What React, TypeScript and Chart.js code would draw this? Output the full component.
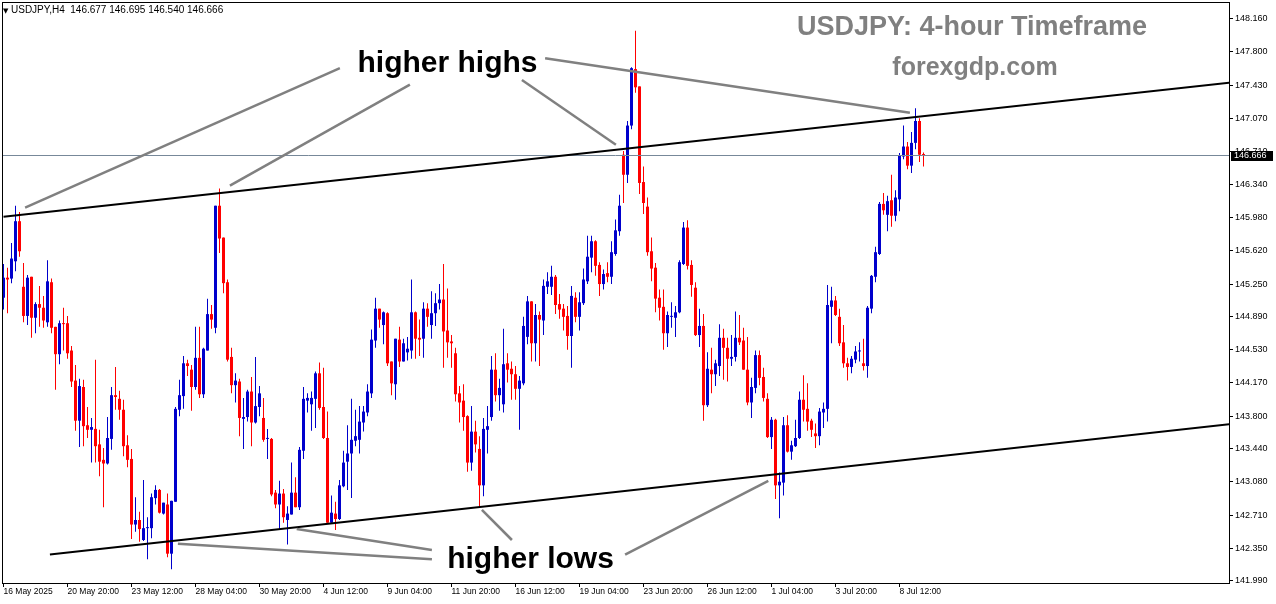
import React, { useEffect, useRef } from 'react';
import { Chart, registerables } from 'chart.js';

Chart.register(...registerables);

// ---- data ----
const timeTickLabels = [
  '16 May 2025', '20 May 20:00', '23 May 12:00', '28 May 04:00', '30 May 20:00',
  '4 Jun 12:00', '9 Jun 04:00', '11 Jun 20:00', '16 Jun 12:00', '19 Jun 04:00',
  '23 Jun 20:00', '26 Jun 12:00', '1 Jul 04:00', '3 Jul 20:00', '8 Jul 12:00',
];
const barsPerTimeTick = 16;

const priceTicks = [
  148.16, 147.8, 147.43, 147.07, 146.71, 146.34, 145.98, 145.62, 145.25,
  144.89, 144.53, 144.17, 143.8, 143.44, 143.08, 142.71, 142.35, 141.99,
];

const open = [
  145.10, 145.32, 145.31, 145.50, 145.94, 145.22, 144.90, 145.33, 144.88, 145.03,
  144.99, 144.83, 145.27, 144.78, 144.48, 144.82, 144.82, 144.52, 144.19, 143.75,
  144.12, 143.70, 143.65, 143.66, 143.49, 143.32, 143.28, 143.55, 144.03, 143.99,
  143.87, 143.48, 143.33, 142.61, 142.66, 142.44, 142.57, 142.57, 142.90, 142.99,
  142.73, 142.83, 142.29, 142.86, 143.87, 144.02, 144.38, 144.31, 144.12, 144.44,
  144.04, 144.52, 144.92, 144.77, 146.11, 145.76, 145.27, 144.45, 144.14, 144.18,
  143.77, 143.79, 144.07, 143.73, 143.90, 143.78, 143.55, 143.55, 142.96, 142.83,
  142.95, 142.66, 142.72, 142.96, 142.80, 143.42, 143.97, 143.93, 143.99, 144.27,
  143.90, 143.56, 142.63, 142.73, 142.67, 143.03, 143.30, 143.39, 143.53, 143.54,
  143.73, 143.84, 144.05, 144.63, 144.98, 144.80, 144.93, 144.40, 144.15, 144.64,
  144.40, 144.50, 144.52, 144.94, 144.66, 144.65, 144.98, 144.80, 144.93, 145.04,
  145.08, 144.74, 144.62, 144.49, 144.05, 143.97, 143.80, 143.29, 143.63, 143.44,
  143.04, 143.65, 143.79, 144.31, 144.03, 143.93, 144.38, 144.32, 144.26, 144.10,
  144.16, 144.67, 145.06, 144.60, 144.91, 144.85, 145.22, 145.22, 145.33, 145.03,
  144.98, 144.90, 144.68, 145.10, 144.89, 145.04, 145.28, 145.54, 145.72, 145.46,
  145.25, 145.37, 145.33, 145.58, 145.83, 146.67, 146.45, 146.99, 147.61, 147.42,
  146.37, 146.10, 145.61, 145.43, 145.10, 145.00, 144.71, 144.89, 144.88, 144.94,
  145.47, 145.87, 145.46, 145.21, 144.69, 144.79, 143.92, 144.31, 144.26, 144.35,
  144.66, 144.55, 144.43, 144.45, 144.66, 144.63, 144.31, 143.95, 144.11, 144.47,
  144.23, 143.99, 143.57, 143.76, 143.04, 143.07, 143.70, 143.41, 143.47, 143.56,
  143.98, 143.88, 143.75, 143.61, 143.58, 143.84, 143.88, 145.00, 145.07, 144.89,
  144.61, 144.38, 144.34, 144.42, 144.51, 144.38, 144.35, 144.98, 145.33, 145.58,
  146.13, 146.01, 146.17, 146.00, 146.18, 146.65, 146.76, 146.55, 146.80, 147.04,
  146.677,
];

const high = [
  145.47, 145.43, 145.70, 146.11, 146.04, 145.48, 145.35, 145.33, 145.05, 145.23,
  145.12, 145.51, 145.31, 144.78, 144.85, 144.99, 144.90, 144.57, 144.36, 144.21,
  144.20, 143.90, 143.78, 144.42, 143.65, 143.45, 143.79, 144.12, 144.34, 144.08,
  143.98, 143.59, 143.44, 142.91, 142.75, 143.10, 142.69, 142.95, 143.04, 143.00,
  142.85, 142.95, 142.87, 143.90, 144.20, 144.46, 144.42, 144.36, 144.78, 144.78,
  144.55, 145.09, 145.02, 146.11, 146.30, 145.76, 145.30, 144.55, 144.27, 144.21,
  144.00, 144.09, 144.23, 144.45, 144.13, 144.00, 143.66, 143.56, 142.99, 143.09,
  143.00, 142.81, 143.29, 143.13, 143.46, 144.12, 144.05, 144.07, 144.29, 144.39,
  144.33, 143.85, 142.93, 142.86, 143.10, 143.42, 143.70, 143.99, 143.87, 143.91,
  143.91, 144.15, 144.75, 145.10, 144.98, 144.95, 144.94, 144.40, 144.65, 144.78,
  144.65, 144.67, 145.30, 144.95, 144.86, 145.05, 145.04, 145.17, 145.15, 145.25,
  145.47, 145.20, 144.69, 144.55, 144.13, 144.15, 143.81, 143.91, 143.75, 143.58,
  143.78, 143.91, 144.46, 144.49, 144.21, 144.76, 144.49, 144.40, 144.35, 144.24,
  144.89, 145.12, 145.06, 145.03, 144.95, 145.30, 145.38, 145.45, 145.35, 145.14,
  145.03, 145.01, 145.23, 145.16, 145.16, 145.42, 145.78, 145.78, 145.73, 145.49,
  145.41, 145.49, 145.72, 145.96, 146.23, 146.71, 147.04, 147.63, 148.03, 147.42,
  146.54, 146.20, 145.76, 145.48, 145.19, 145.19, 144.95, 145.05, 145.01, 145.51,
  145.93, 145.95, 145.51, 145.27, 144.98, 144.92, 144.50, 144.55, 144.42, 144.81,
  144.76, 144.66, 144.69, 144.95, 144.91, 144.77, 144.67, 144.22, 144.52, 144.52,
  144.33, 144.05, 143.79, 143.77, 143.18, 143.79, 143.81, 143.53, 143.76, 144.07,
  144.25, 144.16, 143.77, 143.72, 143.89, 143.95, 145.24, 145.22, 145.12, 144.98,
  144.80, 144.44, 144.46, 144.57, 144.61, 144.65, 145.01, 145.35, 145.66, 146.15,
  146.25, 146.22, 146.45, 146.28, 146.69, 146.99, 146.81, 146.92, 147.18, 147.07,
  146.695,
];

const low = [
  144.97, 144.93, 145.26, 145.39, 145.55, 144.83, 144.80, 144.66, 144.71, 144.78,
  144.77, 144.78, 144.71, 144.09, 144.37, 144.52, 144.43, 144.12, 143.64, 143.46,
  143.47, 143.56, 143.29, 143.29, 143.14, 142.80, 143.27, 143.43, 143.87, 143.76,
  143.36, 143.24, 142.45, 142.53, 142.42, 142.43, 142.23, 142.46, 142.83, 142.73,
  142.72, 142.25, 142.12, 142.86, 143.80, 143.88, 144.24, 143.86, 144.09, 144.00,
  144.00, 144.52, 144.76, 144.71, 145.59, 145.15, 144.40, 144.05, 143.95, 143.58,
  143.44, 143.74, 143.47, 143.72, 143.80, 143.52, 143.33, 142.92, 142.79, 142.56,
  142.63, 142.39, 142.72, 142.80, 142.77, 143.33, 143.84, 143.64, 143.67, 143.87,
  143.55, 142.63, 142.63, 142.55, 142.66, 143.02, 142.99, 142.90, 143.47, 143.39,
  143.63, 143.80, 144.00, 144.55, 144.77, 144.59, 144.35, 144.03, 143.98, 144.34,
  144.40, 144.41, 144.43, 144.43, 144.46, 144.44, 144.78, 144.65, 144.79, 144.97,
  144.33, 144.44, 144.33, 143.96, 143.73, 143.64, 143.19, 143.20, 143.40, 142.80,
  142.92, 143.39, 143.75, 143.96, 143.86, 143.84, 144.17, 143.98, 143.98, 143.65,
  144.14, 144.59, 144.40, 144.40, 144.35, 144.69, 145.14, 145.13, 144.92, 144.87,
  144.74, 144.53, 144.33, 144.83, 144.74, 145.02, 145.25, 145.38, 145.34, 145.12,
  145.19, 145.27, 145.25, 145.56, 145.78, 146.14, 146.36, 146.95, 147.35, 146.24,
  146.02, 145.56, 145.28, 144.94, 144.85, 144.53, 144.56, 144.77, 144.67, 144.93,
  145.46, 145.41, 145.11, 144.68, 144.56, 143.75, 143.90, 144.05, 144.13, 144.24,
  144.20, 144.18, 144.35, 144.40, 144.58, 144.31, 143.92, 143.78, 144.05, 144.14,
  143.96, 143.56, 143.44, 142.89, 142.68, 142.93, 143.40, 143.32, 143.46, 143.55,
  143.74, 143.64, 143.57, 143.45, 143.48, 143.67, 143.74, 144.60, 144.90, 144.57,
  144.33, 144.19, 144.27, 144.38, 144.40, 144.30, 144.22, 144.93, 145.27, 145.57,
  146.01, 145.83, 145.88, 145.94, 146.05, 146.62, 146.51, 146.47, 146.73, 146.59,
  146.540,
];

const close = [
  145.32, 145.30, 145.53, 145.94, 145.61, 144.90, 145.32, 144.88, 145.03, 144.99,
  144.85, 145.28, 144.77, 144.48, 144.82, 144.81, 144.49, 144.18, 143.75, 144.13,
  143.69, 143.65, 143.68, 143.47, 143.30, 143.28, 143.56, 144.03, 144.01, 143.87,
  143.47, 143.32, 142.61, 142.66, 142.56, 142.57, 142.58, 142.91, 142.99, 142.74,
  142.85, 142.29, 142.87, 143.88, 144.03, 144.38, 144.35, 144.12, 144.44, 144.04,
  144.54, 144.92, 144.86, 146.11, 145.75, 145.26, 144.42, 144.14, 144.19, 143.78,
  143.79, 144.07, 143.73, 143.91, 144.05, 143.54, 143.56, 142.94, 142.83, 142.95,
  142.69, 142.73, 142.96, 142.80, 143.43, 143.99, 144.00, 144.00, 144.27, 143.89,
  143.56, 142.63, 142.74, 142.67, 143.04, 143.29, 143.39, 143.54, 143.58, 143.74,
  143.85, 144.07, 144.64, 144.98, 144.86, 144.94, 144.38, 144.16, 144.65, 144.40,
  144.60, 144.54, 144.94, 144.65, 144.64, 144.98, 144.89, 144.93, 145.04, 145.08,
  144.73, 144.61, 144.60, 144.04, 143.95, 143.79, 143.29, 143.63, 143.49, 143.04,
  143.66, 143.69, 144.31, 144.03, 144.11, 144.37, 144.31, 144.26, 144.10, 144.19,
  144.79, 145.06, 144.60, 144.91, 144.86, 145.23, 145.28, 145.33, 145.02, 144.97,
  144.89, 144.68, 145.12, 144.89, 145.05, 145.30, 145.55, 145.72, 145.45, 145.25,
  145.36, 145.33, 145.60, 145.84, 146.11, 146.45, 146.99, 147.62, 147.41, 146.36,
  146.14, 145.60, 145.42, 145.09, 144.99, 144.71, 144.91, 144.90, 144.94, 145.49,
  145.87, 145.45, 145.24, 144.69, 144.79, 143.92, 144.32, 144.26, 144.38, 144.66,
  144.55, 144.43, 144.45, 144.66, 144.61, 144.31, 143.95, 144.12, 144.47, 144.22,
  144.00, 143.57, 143.76, 143.04, 143.08, 143.70, 143.41, 143.48, 143.56, 143.98,
  143.87, 143.74, 143.65, 143.58, 143.85, 143.88, 145.02, 145.07, 144.91, 144.60,
  144.38, 144.34, 144.43, 144.51, 144.52, 144.35, 144.99, 145.34, 145.60, 146.13,
  146.06, 146.16, 146.00, 146.20, 146.66, 146.76, 146.55, 146.80, 147.04, 146.67,
  146.666,
];

const bidPrice = 146.666;

// trend channel lines: [barIndex, price] end points
const upperChannel = [[0, 145.99], [306.4, 147.46]];
const lowerChannel = [[11.6, 142.28], [306.4, 143.71]];

// annotation pointer lines: [barIndex, price] end points
const higherHighsPointers = [
  [[84.1, 147.62], [5.4, 146.09]],
  [[101.6, 147.44], [56.6, 146.33]],
  [[129.6, 147.49], [153.1, 146.78]],
  [[135.4, 147.73], [226.6, 147.13]],
];
const higherLowsPointers = [
  [[107.1, 142.23], [43.6, 142.40]],
  [[107.1, 142.33], [73.3, 142.56]],
  [[127.1, 142.44], [119.6, 142.77]],
  [[155.4, 142.28], [191.2, 143.09]],
];

const symbolTitle = 'USDJPY,H4';
const chartTitle = 'USDJPY: 4-hour Timeframe';
const siteName = 'forexgdp.com';
const highsLabel = 'higher highs';
const lowsLabel = 'higher lows';

// ---- style ----
const BULL = '#0000CC';
const BEAR = '#FF0000';
const AXIS_FONT = 'Liberation Sans';

const overlayPlugin = {
  id: 'mtOverlay',
  afterDatasetsDraw(chart: any) {
    const { ctx, chartArea: a, scales } = chart;
    const px = (v: number) => scales.x.getPixelForValue(v);
    const py = (v: number) => scales.y.getPixelForValue(v);
    ctx.save();
    ctx.beginPath();
    ctx.rect(a.left, a.top, a.right - a.left, a.bottom - a.top);
    ctx.clip();

    // bid line
    const by = Math.round(py(bidPrice)) + 0.5;
    ctx.strokeStyle = '#778899';
    ctx.lineWidth = 1;
    ctx.beginPath();
    ctx.moveTo(a.left, by);
    ctx.lineTo(a.right, by);
    ctx.stroke();

    // channel
    ctx.strokeStyle = '#000000';
    ctx.lineWidth = 2;
    for (const seg of [upperChannel, lowerChannel]) {
      ctx.beginPath();
      ctx.moveTo(px(seg[0][0]), py(seg[0][1]));
      ctx.lineTo(px(seg[1][0]), py(seg[1][1]));
      ctx.stroke();
    }

    // pointers
    ctx.strokeStyle = '#808080';
    ctx.lineWidth = 2.5;
    for (const seg of [...higherHighsPointers, ...higherLowsPointers]) {
      ctx.beginPath();
      ctx.moveTo(px(seg[0][0]), py(seg[0][1]));
      ctx.lineTo(px(seg[1][0]), py(seg[1][1]));
      ctx.stroke();
    }

    // labels
    ctx.textAlign = 'center';
    ctx.textBaseline = 'alphabetic';
    ctx.fillStyle = '#000000';
    ctx.font = `bold 30px "${AXIS_FONT}"`;
    ctx.fillText(highsLabel, 447.5, 72);
    ctx.fillText(lowsLabel, 530.5, 568);

    ctx.fillStyle = '#808080';
    ctx.font = `bold 27px "${AXIS_FONT}"`;
    ctx.fillText(chartTitle, 972, 35);
    ctx.font = `bold 25px "${AXIS_FONT}"`;
    ctx.fillText(siteName, 975, 75);
    ctx.restore();
  },
  afterDraw(chart: any) {
    const { ctx, chartArea: a, scales } = chart;
    ctx.save();
    // frame
    ctx.strokeStyle = '#000000';
    ctx.lineWidth = 1;
    ctx.strokeRect(a.left + 0.5, a.top + 0.5, a.right - a.left, a.bottom - a.top);

    // top-left symbol info
    const last = open.length - 1;
    ctx.fillStyle = '#000000';
    ctx.textAlign = 'left';
    ctx.textBaseline = 'alphabetic';
    ctx.font = `7px "DejaVu Sans"`;
    ctx.fillText('▼', 3, 13);
    ctx.font = `10px "${AXIS_FONT}"`;
    ctx.fillText(
      `${symbolTitle}  ${open[last].toFixed(3)} ${high[last].toFixed(3)} ${low[last].toFixed(3)} ${close[last].toFixed(3)}`,
      11, 13,
    );

    // bid price box on axis
    const by = Math.round(scales.y.getPixelForValue(bidPrice));
    ctx.fillStyle = '#000000';
    ctx.fillRect(a.right + 2, by - 4, 42, 10);
    ctx.fillStyle = '#FFFFFF';
    ctx.font = `9px "${AXIS_FONT}"`;
    ctx.textBaseline = 'middle';
    ctx.fillText(bidPrice.toFixed(3), a.right + 5, by + 1);
    ctx.restore();
  },
};

export default function App() {
  const canvasRef = useRef<HTMLCanvasElement | null>(null);

  useEffect(() => {
    const canvas = canvasRef.current;
    if (!canvas) return;
    const idx = open.map((_, i) => i);
    const colors = idx.map((i) => (close[i] >= open[i] ? BULL : BEAR));
    const slotsVisible = 1227 / 4;

    const chart = new Chart(canvas, {
      type: 'bar',
      data: {
        datasets: [
          {
            label: 'body',
            data: idx.map((i) => ({ x: i, y: [open[i], close[i]] })) as any,
            backgroundColor: colors,
            borderWidth: 0,
            barThickness: 3,
            minBarLength: 1,
            grouped: false,
            inflateAmount: 0,
            order: 1,
          } as any,
          {
            label: 'wick',
            data: idx.map((i) => ({ x: i, y: [low[i], high[i]] })) as any,
            backgroundColor: colors,
            borderWidth: 0,
            barThickness: 1,
            minBarLength: 1,
            grouped: false,
            inflateAmount: 0,
            order: 2,
          } as any,
        ],
      },
      options: {
        animation: false,
        responsive: false,
        devicePixelRatio: 1,
        events: [],
        layout: { padding: { left: 2, top: 2, right: 0, bottom: 0 } },
        plugins: { legend: { display: false }, tooltip: { enabled: false } },
        scales: {
          x: {
            type: 'linear',
            offset: false,
            min: -0.375,
            max: -0.375 + slotsVisible,
            border: { display: false },
            grid: { drawOnChartArea: false, drawTicks: true, tickLength: 4, color: '#000000', offset: false },
            afterBuildTicks: (scale: any) => {
              scale.ticks = timeTickLabels.map((_, k) => ({ value: k * barsPerTimeTick }));
            },
            afterFit: (scale: any) => {
              scale.height = 21;
              scale.paddingLeft = 0;
              scale.paddingRight = 0;
            },
            ticks: {
              autoSkip: false,
              maxRotation: 0,
              minRotation: 0,
              align: 'start',
              padding: 0,
              color: '#000000',
              font: { family: AXIS_FONT, size: 8.5 },
              callback: (_v: any, i: number) => timeTickLabels[i],
            },
          } as any,
          y: {
            type: 'linear',
            position: 'right',
            min: 141.968,
            max: 148.3466,
            border: { display: false },
            grid: { drawOnChartArea: false, drawTicks: true, tickLength: 4, color: '#000000' },
            afterBuildTicks: (scale: any) => {
              scale.ticks = priceTicks.map((v) => ({ value: v }));
            },
            afterFit: (scale: any) => {
              scale.width = 47;
              scale.paddingTop = 0;
              scale.paddingBottom = 0;
            },
            ticks: {
              autoSkip: false,
              padding: 2,
              color: '#000000',
              font: { family: AXIS_FONT, size: 9 },
              callback: (v: any) => Number(v).toFixed(3),
            },
          } as any,
        },
      },
      plugins: [overlayPlugin],
    });
    return () => chart.destroy();
  }, []);

  return (
    <div style={{ position: 'fixed', left: 0, top: 0, width: 1276, height: 604, background: '#FFFFFF' }}>
      <canvas ref={canvasRef} width={1276} height={604} style={{ display: 'block' }} />
    </div>
  );
}
